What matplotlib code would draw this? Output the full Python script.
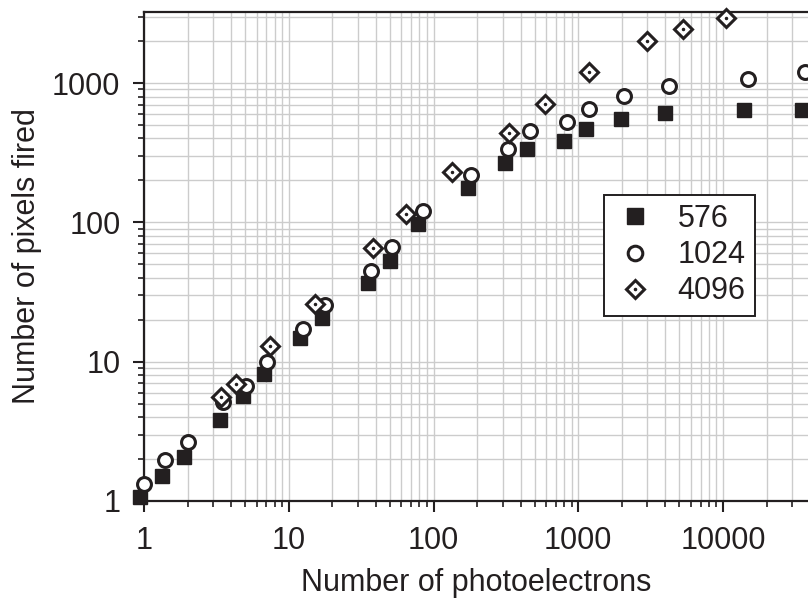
import matplotlib.pyplot as plt
from matplotlib.ticker import LogLocator, NullFormatter, FixedLocator, FixedFormatter

plt.rcParams['font.family'] = ['Liberation Sans', 'DejaVu Sans']

ink = '#231f20'

# data
pe_576 = [0.94, 1.33, 1.89, 3.34, 4.82, 6.7, 11.9, 16.9, 35, 49.7, 78.6, 174, 310, 445, 801, 1140, 1980, 3950, 13900, 35000]
px_576 = [1.07, 1.51, 2.07, 3.81, 5.66, 8.1, 14.7, 20.5, 36.6, 52.5, 96.9, 175, 265, 338, 386, 471, 555, 612, 635, 640]

pe_1024 = [1.0, 1.40, 2.01, 3.51, 5.05, 7.06, 12.5, 17.7, 36.8, 52, 84, 183, 329, 466, 838, 1195, 2080, 4230, 14800, 36600]
px_1024 = [1.32, 1.97, 2.65, 5.12, 6.67, 9.92, 17.1, 25.4, 44.5, 66.3, 120, 217, 338, 449, 522, 655, 812, 944, 1075, 1205]

pe_4096 = [3.40, 4.31, 7.39, 15.1, 38, 65, 135, 334, 593, 1195, 3000, 5270, 10500]
px_4096 = [5.57, 6.9, 12.9, 25.8, 65, 114, 228, 440, 710, 1194, 1990, 2460, 2940]

fig = plt.figure(figsize=(8.08, 5.99), dpi=100)
ax = fig.add_axes([144 / 808, 98 / 599, 664 / 808, 489 / 599])

ax.set_xscale('log')
ax.set_yscale('log')
ax.set_xlim(1, 10 ** (664 / 144.75))
ax.set_ylim(1, 10 ** (489 / 139.33))

h1, = ax.plot(pe_576, px_576, 's', ms=10.5, color=ink, mec=ink, clip_on=False, zorder=3)
h2, = ax.plot(pe_1024, px_1024, 'o', ms=10, mfc='white', mec=ink, mew=2.2, clip_on=False, zorder=4)
h3, = ax.plot(pe_4096, px_4096, 'D', ms=9, mfc='white', mec=ink, mew=2.2, clip_on=False, zorder=5)
h3dot, = ax.plot(pe_4096, px_4096, '.', ms=3, color=ink, clip_on=False, zorder=6)

# grid, major and minor
ax.grid(True, which='both', color='#cccccc', lw=1)
ax.set_axisbelow(True)

ax.xaxis.set_major_locator(FixedLocator([1, 10, 100, 1000, 10000]))
ax.xaxis.set_major_formatter(FixedFormatter(['1', '10', '100', '1000', '10000']))
ax.yaxis.set_major_locator(FixedLocator([1, 10, 100, 1000]))
ax.yaxis.set_major_formatter(FixedFormatter(['1', '10', '100', '1000']))
ax.xaxis.set_minor_locator(LogLocator(base=10, subs=range(2, 10), numticks=20))
ax.yaxis.set_minor_locator(LogLocator(base=10, subs=range(2, 10), numticks=20))
ax.xaxis.set_minor_formatter(NullFormatter())
ax.yaxis.set_minor_formatter(NullFormatter())

ax.tick_params(axis='both', which='major', direction='out', length=8, width=1.5,
               color=ink, labelsize=22, labelcolor=ink, pad=10)
ax.tick_params(axis='y', which='major', pad=9)
ax.tick_params(axis='both', which='minor', direction='out', length=4.5, width=1.2, color=ink)

for side in ['left', 'bottom', 'top']:
    ax.spines[side].set_linewidth(1.6)
    ax.spines[side].set_color(ink)
ax.spines['right'].set_visible(False)

ax.set_xlabel('Number of photoelectrons', fontsize=22, color=ink, labelpad=9)
ax.set_ylabel('Number of pixels fired', fontsize=22, color=ink, labelpad=7)

leg = ax.legend([h1, h2, (h3, h3dot)], ['576', '1024', '4096'],
                loc='upper left', bbox_to_anchor=((604 - 144) / 664, (501 - 195) / 489),
                borderaxespad=0, fontsize=22, frameon=True, fancybox=False, framealpha=1,
                edgecolor=ink, borderpad=0.3, handletextpad=0.7, labelspacing=0.2,
                handlelength=1.4, markerscale=1.05)
leg.get_frame().set_linewidth(1.4)
for t in leg.get_texts():
    t.set_color(ink)

fig.savefig('out.png', dpi=100)
